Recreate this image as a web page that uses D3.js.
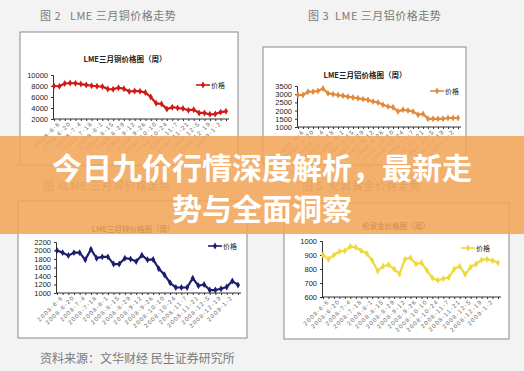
<!DOCTYPE html>
<html>
<head>
<meta charset="utf-8">
<script src="https://cdn.jsdelivr.net/npm/d3@7"></script>
<style>
  body { margin: 0; background: #f3f3f3; }
  svg { display: block; }
</style>
</head>
<body>
<svg width="524" height="371"></svg>
<script>
// weekly dates, labels shown every other week
var dates = ["2008-6-6","2008-6-13","2008-6-20","2008-6-27","2008-7-4","2008-7-11","2008-7-18","2008-7-25",
  "2008-8-1","2008-8-8","2008-8-15","2008-8-22","2008-8-29","2008-9-5","2008-9-12","2008-9-19","2008-9-26",
  "2008-10-3","2008-10-10","2008-10-17","2008-10-24","2008-10-31","2008-11-7","2008-11-14","2008-11-21",
  "2008-11-28","2008-12-5","2008-12-12","2008-12-19","2008-12-26","2009-1-2","2009-1-9","2009-1-16"];

var copper = [8000, 7950, 8450, 8550, 8500, 8350, 8200, 8050, 7950, 7900, 7450, 7400, 7700, 7500, 7000, 7100,
  7050, 6800, 6000, 4850, 4750, 3800, 4150, 4000, 3900, 3600, 3700, 3100, 3100, 2850, 2900, 3250, 3400];
var aluminum = [2950, 2950, 3150, 3150, 3200, 3350, 3050, 3000, 2950, 2900, 2850, 2800, 2750, 2700, 2650, 2550,
  2500, 2350, 2250, 2200, 1950, 2050, 2000, 1950, 1750, 1800, 1500, 1500, 1500, 1500, 1550, 1550, 1550];
var zinc = [2000, 1950, 1880, 1950, 1950, 1780, 2030, 1820, 1850, 1850, 1680, 1680, 1820, 1800, 1740, 1890,
  1780, 1790, 1570, 1430, 1240, 1130, 1130, 1130, 1350, 1170, 1200, 1070, 1070, 1100, 1140, 1280, 1190];
var gold = [900, 870, 900, 925, 930, 960, 955, 930, 910, 860, 785, 820, 830, 800, 765, 870,
  880, 835, 845, 790, 735, 720, 730, 740, 800, 820, 760, 815, 835, 865, 870, 860, 845];

var captions = ["图 2   LME 三月铜价格走势", "图 3  LME 三月铝价格走势", "图 4LME 三月锌价格走势", "图 5  伦敦黄金价格走势"];
var chartTitles = ["LME三月铜价格图（周）", "LME三月铝价格图（周）", "LME三月锌价格图（周）", "伦敦金价格图（周）"];
var legendLabel = "价格";
var bannerLines = ["今日九价行情深度解析，最新走", "势与全面洞察"];
var sourceText = "资料来源：文华财经 民生证券研究所";

var svg = d3.select("svg");
var cjk = "'Noto Sans CJK SC', 'Noto Sans', sans-serif";

svg.append("rect").attr("width", 524).attr("height", 371).attr("fill", "#f3f3f3");

function drawChart(cfg) {
  var g = svg.append("g");

  g.append("text")
    .attr("x", cfg.capX).attr("y", cfg.capY)
    .attr("dominant-baseline", "central")
    .style("font-family", cjk).style("font-size", "11px")
    .style("letter-spacing", "0.5px").style("white-space", "pre")
    .attr("fill", "#7a7a7a")
    .text(cfg.caption);

  g.append("rect")
    .attr("x", cfg.frame[0]).attr("y", cfg.frame[1])
    .attr("width", cfg.frame[2] - cfg.frame[0]).attr("height", cfg.frame[3] - cfg.frame[1])
    .attr("fill", "#ffffff").attr("stroke", "#8a8a8a").attr("stroke-width", 1);

  g.append("text")
    .attr("x", cfg.titleX).attr("y", cfg.titleY)
    .attr("text-anchor", "middle").attr("dominant-baseline", "central")
    .style("font-family", cjk).style("font-size", "7.5px").style("font-weight", "bold")
    .attr("fill", "#222")
    .text(cfg.title);

  var x = d3.scalePoint().domain(dates).range(cfg.xRange);
  var y = d3.scaleLinear().domain(cfg.yDomain).range(cfg.yRange);

  var yAxis = d3.axisLeft(y).tickValues(d3.range(cfg.yDomain[0], cfg.yDomain[1] + 1, cfg.yStep))
    .tickFormat(d3.format("d"))
    .tickSize(2).tickPadding(3);
  var ya = g.append("g").attr("transform", "translate(" + (cfg.xRange[0] - 1) + ",0)").call(yAxis);
  ya.select(".domain").attr("stroke", "#333");
  ya.selectAll(".tick line").attr("stroke", "#333");
  ya.selectAll("text").style("font-family", "'Liberation Sans', sans-serif").style("font-size", "7.5px").attr("fill", "#222");

  var xAxis = d3.axisBottom(x).tickSize(2).tickSizeOuter(0)
    .tickFormat(function(d, i) { return i % 2 === 0 && i <= 30 ? d : ""; });
  var xa = g.append("g").attr("transform", "translate(0," + cfg.yRange[0] + ")").call(xAxis);
  xa.select(".domain").attr("stroke", "#333")
    .attr("d", "M" + (cfg.xRange[0] - 1) + ",0H" + (cfg.xRange[1] + 3));
  xa.selectAll(".tick line").attr("stroke", "#333");
  xa.selectAll("text")
    .style("font-family", "'Liberation Sans', sans-serif").style("font-size", "6px")
    .style("letter-spacing", "1.2px").attr("fill", "#666")
    .attr("text-anchor", "end").attr("dy", "0.3em")
    .attr("transform", "translate(2,1) rotate(-45)").attr("x", 0).attr("y", 4);

  var line = d3.line().x(function(d, i) { return x(dates[i]); }).y(function(d) { return y(d); });
  g.append("path").datum(cfg.values)
    .attr("d", line).attr("fill", "none")
    .attr("stroke", cfg.color).attr("stroke-width", 2.2).attr("stroke-linejoin", "round");

  var diamond = d3.symbol().type(d3.symbolDiamond).size(14);
  g.selectAll(".pt").data(cfg.values).enter().append("path")
    .attr("class", "pt")
    .attr("d", diamond)
    .attr("transform", function(d, i) { return "translate(" + x(dates[i]) + "," + y(d) + ")"; })
    .attr("fill", cfg.color);

  // legend
  var lg = g.append("g").attr("transform", "translate(" + cfg.legend[0] + "," + cfg.legend[1] + ")");
  lg.append("line").attr("x1", 0).attr("x2", 14).attr("stroke", cfg.color).attr("stroke-width", 1.6);
  lg.append("path").attr("d", diamond).attr("transform", "translate(7,0)").attr("fill", cfg.color);
  lg.append("text").attr("x", 15).attr("dominant-baseline", "central")
    .style("font-family", cjk).style("font-size", "7px").attr("fill", "#222").text(legendLabel);
}

drawChart({ caption: captions[0], capX: 40, capY: 15, frame: [20, 32, 238, 165],
  title: chartTitles[0], titleX: 125, titleY: 58,
  xRange: [54, 226], yDomain: [2000, 10000], yRange: [119, 75], yStep: 2000,
  values: copper, color: "#d01818", legend: [196, 85] });

drawChart({ caption: captions[1], capX: 308, capY: 15, frame: [263, 47, 466, 165],
  title: chartTitles[1], titleX: 365, titleY: 74,
  xRange: [298, 458], yDomain: [1000, 3500], yRange: [127, 86], yStep: 500,
  values: aluminum, color: "#e28a3c", legend: [430, 91] });

drawChart({ caption: captions[2], capX: 43, capY: 185, frame: [18, 201, 247, 338],
  title: chartTitles[2], titleX: 133, titleY: 228,
  xRange: [57, 238], yDomain: [1000, 2200], yRange: [293, 242], yStep: 200,
  values: zinc, color: "#1c1c70", legend: [208, 246] });

drawChart({ caption: captions[3], capX: 302, capY: 185, frame: [284, 203, 509, 339],
  title: chartTitles[3], titleX: 396, titleY: 225,
  xRange: [323, 498], yDomain: [600, 1000], yRange: [297, 241], yStep: 100,
  values: gold, color: "#f0d838", legend: [461, 248] });

svg.append("text")
  .attr("x", 40).attr("y", 357).attr("dominant-baseline", "central")
  .style("font-family", cjk).style("font-size", "12px").attr("fill", "#7a7a7a")
  .text(sourceText);

// orange banner with title
svg.append("rect").attr("x", 0).attr("y", 136).attr("width", 524).attr("height", 98)
  .attr("fill", "#f3a65a").attr("fill-opacity", 0.88);

svg.selectAll(".banner").data(bannerLines).enter().append("text")
  .attr("class", "banner")
  .attr("x", 262).attr("y", function(d, i) { return 166 + i * 41; })
  .attr("text-anchor", "middle").attr("dominant-baseline", "central")
  .style("font-family", cjk).style("font-size", "30px").style("font-weight", "bold")
  .attr("fill", "#ffffff")
  .text(function(d) { return d; });
</script>
</body>
</html>
